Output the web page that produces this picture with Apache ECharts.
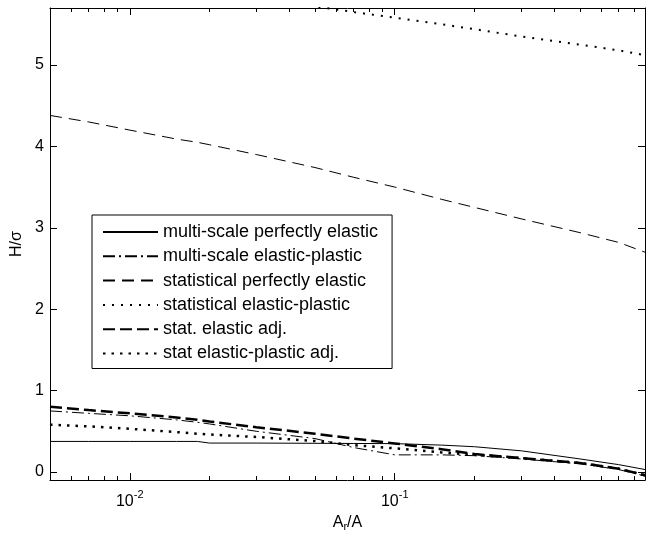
<!DOCTYPE html>
<html>
<head>
<meta charset="utf-8">
<script src="https://cdn.jsdelivr.net/npm/echarts@6/dist/echarts.min.js"></script>
<style>
  html, body { margin: 0; padding: 0; background: #fff; }
  #chart { width: 647px; height: 537px; }
</style>
</head>
<body>
<div id="chart"></div>
<script>
// Real contact area ratio Ar/A (log scale)
const ratio = [0.005, 0.007, 0.01, 0.015, 0.018, 0.02, 0.03, 0.05, 0.07, 0.1, 0.15, 0.2, 0.3, 0.5, 0.7, 0.88];

// Hardness-to-yield ratio H/σ for each contact model
const multiScaleElastic = [0.375, 0.375, 0.375, 0.375, 0.375, 0.355, 0.355, 0.352, 0.35, 0.348, 0.33, 0.31, 0.26, 0.16, 0.09, 0.03];
const multiScalePlastic = [0.75, 0.72, 0.69, 0.64, 0.61, 0.59, 0.50, 0.41, 0.30, 0.21, 0.21, 0.20, 0.16, 0.10, 0.03, -0.05];
const statElastic       = [4.38, 4.30, 4.20, 4.09, 4.05, 4.02, 3.90, 3.74, 3.62, 3.50, 3.35, 3.25, 3.11, 2.94, 2.82, 2.70];
const statPlastic       = [null, null, null, null, null, null, 5.83, 5.72, 5.65, 5.58, 5.50, 5.44, 5.35, 5.25, 5.18, 5.12];
const statElasticAdj    = [0.80, 0.76, 0.72, 0.67, 0.64, 0.62, 0.55, 0.47, 0.41, 0.35, 0.28, 0.22, 0.17, 0.11, 0.04, -0.04];
const statPlasticAdj    = [0.58, 0.56, 0.53, 0.49, 0.47, 0.46, 0.43, 0.38, 0.33, 0.29, 0.24, 0.21, 0.17, 0.11, 0.04, -0.04];

// Tick positions
const majorX = [0.01, 0.1];
const minorX = [0.006, 0.007, 0.008, 0.009, 0.02, 0.03, 0.04, 0.05, 0.06, 0.07, 0.08, 0.09,
                0.2, 0.3, 0.4, 0.5, 0.6, 0.7, 0.8];
const yTicks = [0, 1, 2, 3, 4, 5];

const FONT = 'Liberation Sans, Arial, Helvetica, sans-serif';
const X_MIN = 0.005, X_MAX = 0.88, Y_MIN = -0.1, Y_MAX = 5.7;

function line(name, ys, width, dash) {
  return {
    name: name,
    type: 'line',
    xAxisIndex: 0,
    yAxisIndex: 0,
    data: ratio.map((x, i) => [x, ys[i]]).filter(p => p[1] !== null),
    symbol: 'none',
    showSymbol: false,
    silent: true,
    clip: true,
    lineStyle: { color: '#000', width: width, type: dash }
  };
}

function xAxisFor(position, ticks, len, showLine, withLabels) {
  const ax = {
    type: 'log',
    logBase: 10,
    position: position,
    min: X_MIN,
    max: X_MAX,
    splitLine: { show: false },
    minorTick: { show: false },
    axisLine: { show: showLine, onZero: false, lineStyle: { color: '#000', width: 1 } },
    axisTick: { show: true, inside: true, length: len, customValues: ticks, lineStyle: { color: '#000', width: 1 } },
    axisLabel: { show: false }
  };
  if (withLabels) {
    ax.axisLabel = {
      show: true,
      customValues: majorX,
      margin: 9,
      formatter: v => '{b|10}{s|' + Math.round(Math.log10(v)) + '}',
      rich: {
        b: { fontSize: 16, fontFamily: FONT, color: '#000' },
        s: { fontSize: 11, fontFamily: FONT, color: '#000', padding: [0, 0, 14, 0] }
      }
    };
    ax.name = '{a|A}{r|r}{a|/A}';
    ax.nameLocation = 'middle';
    ax.nameGap = 31;
    ax.nameTextStyle = {
      rich: {
        a: { fontSize: 16, fontFamily: FONT, color: '#000' },
        r: { fontSize: 11, fontFamily: FONT, color: '#000', padding: [8, 0, 0, 0] }
      }
    };
  }
  return ax;
}

function yAxisFor(position, withLabels) {
  const ax = {
    type: 'value',
    position: position,
    min: Y_MIN,
    max: Y_MAX,
    splitLine: { show: false },
    axisLine: { show: true, onZero: false, lineStyle: { color: '#000', width: 1 } },
    axisTick: { show: true, inside: true, length: 7, customValues: yTicks, lineStyle: { color: '#000', width: 1 } },
    axisLabel: { show: false }
  };
  if (withLabels) {
    ax.axisLabel = { show: true, customValues: yTicks, margin: 6, fontSize: 16, fontFamily: FONT, color: '#000' };
    ax.name = 'H/σ';
    ax.nameLocation = 'middle';
    ax.nameRotate = 90;
    ax.nameGap = 16;
    ax.nameTextStyle = { fontSize: 16, fontFamily: FONT, color: '#000' };
  }
  return ax;
}

const chart = echarts.init(document.getElementById('chart'), null, { renderer: 'canvas' });
chart.setOption({
  animation: false,
  backgroundColor: '#fff',
  grid: { left: 50, right: 2, top: 8, bottom: 54, containLabel: false },
  xAxis: [
    xAxisFor('bottom', majorX, 7, true, true),
    xAxisFor('bottom', minorX, 4, false, false),
    xAxisFor('top', majorX, 7, true, false),
    xAxisFor('top', minorX, 4, false, false)
  ],
  yAxis: [
    yAxisFor('left', true),
    yAxisFor('right', false)
  ],
  legend: {
    orient: 'vertical',
    left: 92,
    top: 215,
    itemWidth: 55,
    itemHeight: 14,
    itemGap: 6.3,
    padding: [8, 14, 6, 10],
    backgroundColor: '#fff',
    borderColor: '#000',
    borderWidth: 1,
    borderRadius: 0,
    selectedMode: false,
    itemStyle: { opacity: 0 },
    textStyle: { fontSize: 18, fontFamily: FONT, color: '#000' },
    data: [
      'multi-scale perfectly elastic',
      'multi-scale elastic-plastic',
      'statistical perfectly elastic',
      'statistical elastic-plastic',
      'stat. elastic adj.',
      'stat elastic-plastic adj.'
    ]
  },
  series: [
    line('multi-scale perfectly elastic', multiScaleElastic, 1, 'solid'),
    line('multi-scale elastic-plastic', multiScalePlastic, 1, [12, 4, 2, 4]),
    line('statistical perfectly elastic', statElastic, 1, [12, 7]),
    line('statistical elastic-plastic', statPlastic, 2, [2, 7]),
    line('stat. elastic adj.', statElasticAdj, 2.5, [12, 5]),
    line('stat elastic-plastic adj.', statPlasticAdj, 2.5, [2.5, 6])
  ]
});
</script>
</body>
</html>
